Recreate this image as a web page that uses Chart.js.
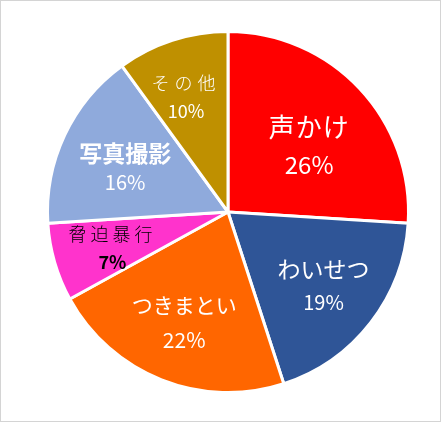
<!DOCTYPE html>
<html>
<head>
<meta charset="utf-8">
<script src="https://cdn.jsdelivr.net/npm/chart.js@4"></script>
<style>
  html, body { margin: 0; padding: 0; background: #fff; }
  #wrap { width: 441px; height: 422px; position: relative; }
  #chart { display: block; outline: 1px solid #d4d4d4; outline-offset: -1px; }
</style>
</head>
<body>
<div id="wrap">
  <canvas id="chart" width="441" height="422"></canvas>
</div>
<script>
// data
const categories = ['声かけ', 'わいせつ', 'つきまとい', '脅迫暴行', '写真撮影', 'その他'];
const shares = [26, 19, 22, 7, 16, 10];

// styling per slice
const sliceColors = ['#FF0000', '#2F5597', '#FF6600', '#FF33CC', '#8FAADC', '#BF9000'];
const labelColors = ['#fff', '#fff', '#fff', '#000', '#fff', '#fff'];
const nameFonts = ['26px', '23px', '21px', '300 18px', 'bold 23px', '300 18px'];
const pctFonts = ['24px', '20px', '21px', 'bold 18px', '20px', '18px'];
const nameSpacing = ['1px', '0px', '0px', '4px', '0px', '5px'];
const lineGap = [38, 33, 35, 28, 29, 28];
const labelDist = [0.58, 0.67, 0.66, 0.67, 0.62, 0.68];
const angleShift = [4, 0, 0, -1, -2, -2]; // degrees

const FONT = '"Noto Sans CJK JP", "Noto Sans", sans-serif';

// draws the name + percent inside each slice
const sliceLabels = {
    id: 'sliceLabels',
    afterDatasetsDraw(chart) {
        const ctx = chart.ctx;
        const meta = chart.getDatasetMeta(0);
        ctx.save();
        ctx.textAlign = 'center';
        ctx.textBaseline = 'middle';
        meta.data.forEach((arc, i) => {
            const mid = (arc.startAngle + arc.endAngle) / 2 + angleShift[i] * Math.PI / 180;
            const r = arc.outerRadius * labelDist[i];
            const x = arc.x + Math.cos(mid) * r;
            const y = arc.y + Math.sin(mid) * r;
            ctx.fillStyle = labelColors[i];
            ctx.font = nameFonts[i] + ' ' + FONT;
            ctx.letterSpacing = nameSpacing[i];
            ctx.fillText(categories[i], x, y - lineGap[i] / 2);
            ctx.letterSpacing = '0px';
            ctx.font = pctFonts[i] + ' ' + FONT;
            ctx.fillText(shares[i] + '%', x, y + lineGap[i] / 2);
        });
        ctx.restore();
    }
};

new Chart(document.getElementById('chart'), {
    type: 'pie',
    data: {
        labels: categories,
        datasets: [{
            data: shares,
            backgroundColor: sliceColors,
            borderColor: '#ffffff',
            borderWidth: 3
        }]
    },
    options: {
        responsive: false,
        animation: false,
        layout: {
            padding: { left: 46, right: 31, top: 30, bottom: 28 }
        },
        plugins: {
            legend: { display: false },
            tooltip: { enabled: false }
        }
    },
    plugins: [sliceLabels]
});
</script>
</body>
</html>
